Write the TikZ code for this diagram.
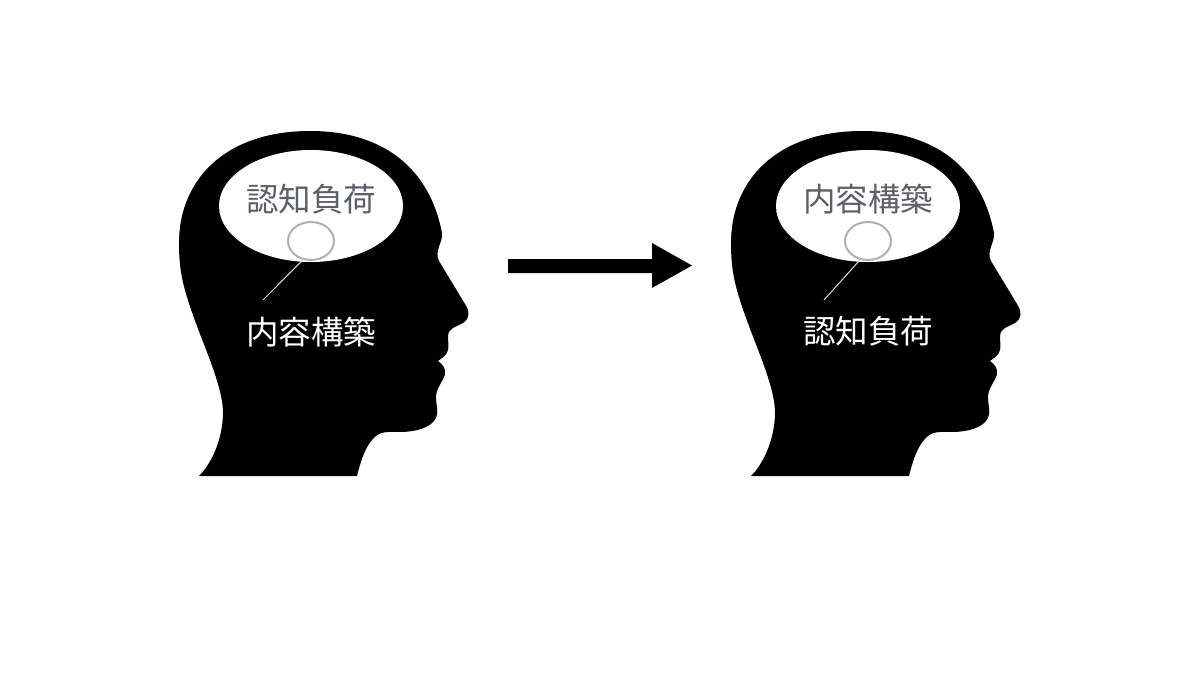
\documentclass[tikz,border=0pt]{standalone}
\usepackage{fontspec}
\setmainfont{Noto Sans CJK JP}
\usetikzlibrary{shapes.geometric}
\definecolor{labelgray}{HTML}{5B5F68}
\definecolor{ringgray}{HTML}{B0B0B0}
\tikzset{
  headshape/.style={fill=black,draw=none},
  brainoval/.style={shape=ellipse,fill=white,draw=none,minimum width=184pt,minimum height=112pt,inner sep=0pt},
  focusoval/.style={shape=ellipse,fill=white,draw=ringgray,line width=2pt,minimum width=46pt,minimum height=38pt,inner sep=0pt},
  braintext/.style={text=labelgray,font=\fontsize{32.5}{32.5}\selectfont,inner sep=0pt},
  outtext/.style={text=white,font=\fontsize{32.5}{32.5}\selectfont,inner sep=0pt},
  leader/.style={draw=white!85!black,line width=1pt},
  bigarrow/.style={fill=black,draw=none}
}
\newcommand{\headoutline}{%
  (199,476) .. controls (212,463) and (222,440) .. (223,415)
  .. controls (224,385) and (200,340) .. (187,297)
  .. controls (180,275) and (179,258) .. (179,243)
  .. controls (179,180) and (225,131) .. (310,131)
  .. controls (385,131) and (430,170) .. (442,233)
  .. controls (443,243) and (434,250) .. (439,261)
  -- (465,304) .. controls (470,312) and (470,318) .. (463,323)
  .. controls (457,327) and (448,327) .. (448,337)
  .. controls (448,342) and (449,345) .. (448,350)
  .. controls (447,355) and (442,358) .. (438,361)
  .. controls (442,364) and (446,368) .. (445,374)
  .. controls (444,380) and (436,388) .. (436,397)
  .. controls (436,405) and (439,412) .. (436,418)
  .. controls (431,428) and (415,432) .. (400,432)
  .. controls (390,432) and (382,431) .. (376,436)
  .. controls (366,444) and (361,460) .. (357,476)
  -- cycle}
\begin{document}
\begin{tikzpicture}[x=1pt,y=-1pt]
\useasboundingbox (0,0) rectangle (1200,675);
\fill[white] (0,0) rectangle (1200,675);
% left head
\fill[headshape] \headoutline;
\node[brainoval] (ovalL) at (311,206) {};
\node[braintext] (titleL) at (311,199) {認知負荷};
\node[focusoval] (ringL) at (311,241) {};
\node[outtext] (labelL) at (311,332) {内容構築};
\coordinate (endL) at (263,300);
\draw[leader] (ringL.247) -- (endL);
% right head
\begin{scope}[xshift=552pt]
\fill[headshape] \headoutline;
\end{scope}
\node[brainoval] (ovalR) at (868,206) {};
\node[braintext] (titleR) at (868,199) {内容構築};
\node[focusoval] (ringR) at (868,241) {};
\node[outtext] (labelR) at (868,331) {認知負荷};
\coordinate (endR) at (824,300);
\draw[leader] (ringR.247) -- (endR);
% arrow
\fill[bigarrow] (508,259) -- (652,259) -- (652,243) -- (692,265.5) -- (652,288) -- (652,273) -- (508,273) -- cycle;
\end{tikzpicture}
\end{document}
